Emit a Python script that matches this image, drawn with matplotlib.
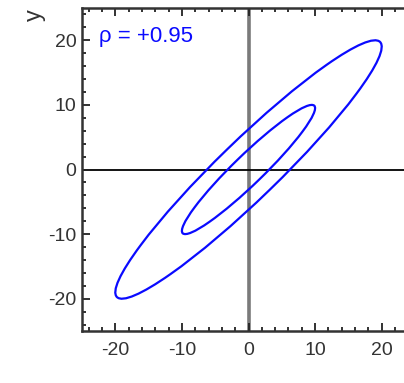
import numpy as np
import matplotlib
matplotlib.use("Agg")
import matplotlib.pyplot as plt
from matplotlib.patches import Ellipse
from matplotlib.ticker import MultipleLocator

# correlation and contour extents (max |x| reached on each contour)
rho = 0.95
extents = [10, 20]
label = "ρ = +0.95"

plt.rcParams['font.family'] = ['Liberation Sans', 'DejaVu Sans']
plt.rcParams['axes.unicode_minus'] = False

fig = plt.figure(figsize=(4.04, 3.83), dpi=100)
ax = fig.add_axes([82 / 404, 52 / 383, 333 / 404, 323 / 383])
ax.set_xlim(-25, 25)
ax.set_ylim(-25, 25)

ax.axvline(0, color="#7a7a7a", lw=2.6, zorder=1)
ax.axhline(0, color="black", lw=1.3, zorder=1)

# contour x^2 - 2*rho*x*y + y^2 = c, with c = ext^2 * (1 - rho^2)
for ext in extents:
    c = ext ** 2 * (1 - rho ** 2)
    u = np.sqrt(c / (1 - rho))
    v = np.sqrt(c / (1 + rho))
    ax.add_patch(Ellipse((0, 0), 2 * u, 2 * v, angle=45, fill=False,
                         edgecolor="#0a0aff", lw=1.6, zorder=3))

ax.text(-22.4, 20.6, label, color="#0a0aff", fontsize=16, va="center", ha="left")

ax.xaxis.set_major_locator(MultipleLocator(10))
ax.yaxis.set_major_locator(MultipleLocator(10))
ax.xaxis.set_minor_locator(MultipleLocator(2))
ax.yaxis.set_minor_locator(MultipleLocator(2))
ax.tick_params(which="both", direction="in", top=True, right=True,
               colors="#222222", labelcolor="#333333", labelsize=14)
ax.tick_params(axis="x", pad=8)
ax.tick_params(axis="y", pad=4)
ax.tick_params(which="major", length=6, width=1.3)
ax.tick_params(which="minor", length=3, width=1.3)
for s in ax.spines.values():
    s.set_linewidth(1.8)
    s.set_color("#333333")

fig.text(35 / 404, 1 - 15 / 383, "y", rotation=90, fontsize=17,
         color="#333333", ha="center", va="center")

fig.savefig("out.png", dpi=100)
